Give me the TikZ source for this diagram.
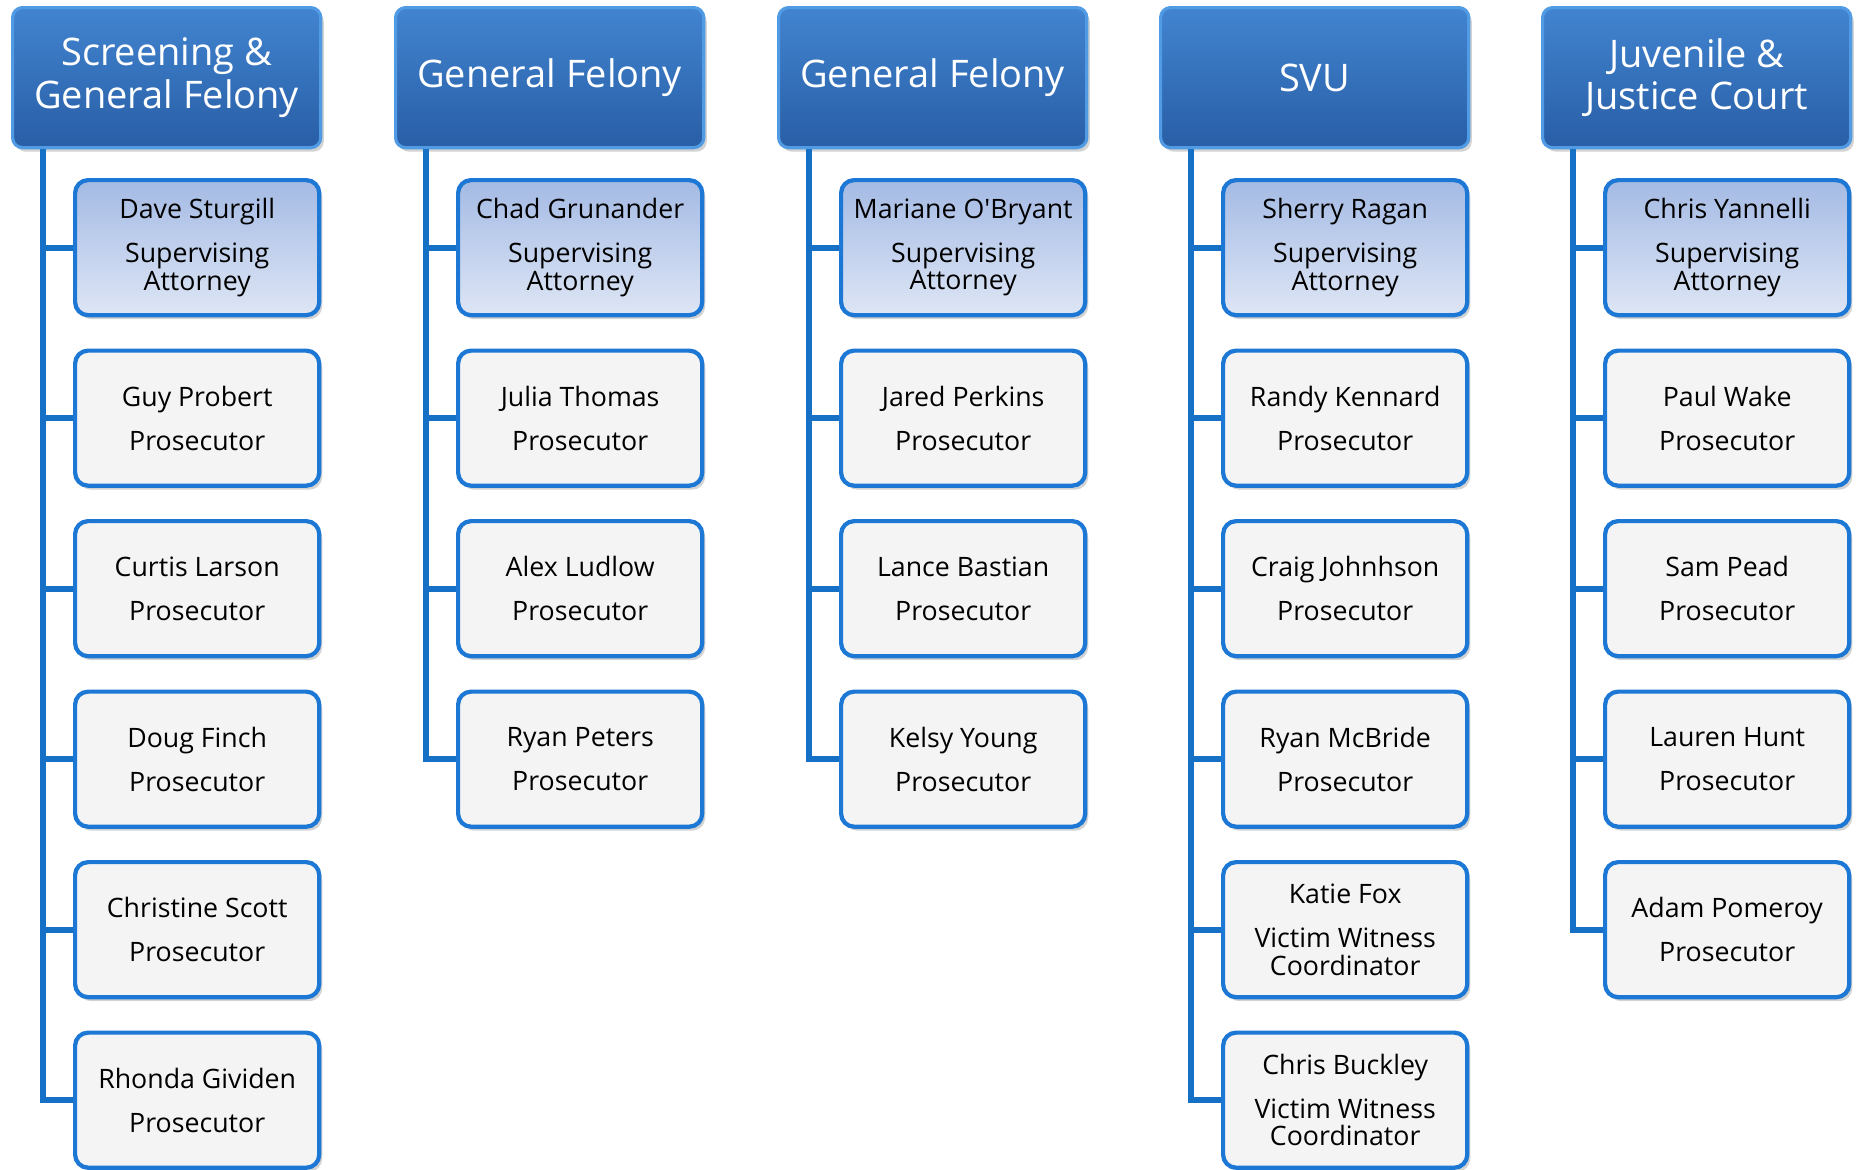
\documentclass[tikz,border=0pt]{standalone}
\usepackage{fontspec}
\setmainfont{Open Sans}
\usetikzlibrary{shadows}
\definecolor{hdtop}{RGB}{66,132,208}
\definecolor{hdbot}{RGB}{40,94,166}
\definecolor{hdborder}{RGB}{80,155,228}
\definecolor{bxborder}{RGB}{28,120,212}
\definecolor{bxfill}{RGB}{244,244,244}
\definecolor{suptop}{RGB}{164,186,228}
\definecolor{supbot}{RGB}{222,230,245}
\definecolor{lncol}{RGB}{22,112,198}
\tikzset{
  hdr/.style={anchor=north west, minimum width=3.08cm, minimum height=1.40cm,
    rounded corners=0.1cm, draw=hdborder, line width=0.9pt,
    top color=hdtop, bottom color=hdbot, text=white, align=center,
    font=\fontsize{10.8}{12.2}\selectfont,
    drop shadow={shadow xshift=0.03cm, shadow yshift=-0.04cm, opacity=0.35}},
  person/.style={anchor=north west, minimum width=2.44cm, minimum height=1.35cm,
    rounded corners=0.13cm, draw=bxborder, line width=1.2pt, fill=bxfill,
    align=center, font=\fontsize{7.6}{7.8}\selectfont,
    drop shadow={shadow xshift=0.03cm, shadow yshift=-0.04cm, opacity=0.35}},
  sup/.style={person, top color=suptop, bottom color=supbot},
  conn/.style={draw=lncol, line width=1.7pt}
}
\begin{document}
\begin{tikzpicture}[x=0.01cm,y=-0.01cm]
\useasboundingbox (0,0) rectangle (1857,1169);
% headers
\node[hdr] (h1) at (11,6) {Screening \&\\General Felony};
\node[hdr] (h2) at (394,6) {General Felony};
\node[hdr] (h3) at (777,6) {General Felony};
\node[hdr] (h4) at (1159,6) {SVU};
\node[hdr] (h5) at (1541,6) {Juvenile \&\\Justice Court};
% column 1
\node[sup] (c11) at (73,178) {Dave Sturgill\\[4.7pt]Supervising\\Attorney};
\node[person] (c12) at (73,348.5) {Guy Probert\\[4.7pt]Prosecutor};
\node[person] (c13) at (73,519) {Curtis Larson\\[4.7pt]Prosecutor};
\node[person] (c14) at (73,689.5) {Doug Finch\\[4.7pt]Prosecutor};
\node[person] (c15) at (73,860) {Christine Scott\\[4.7pt]Prosecutor};
\node[person] (c16) at (73,1030.5) {Rhonda Gividen\\[4.7pt]Prosecutor};
% column 2
\node[sup] (c21) at (456,178) {Chad Grunander\\[4.7pt]Supervising\\Attorney};
\node[person] (c22) at (456,348.5) {Julia Thomas\\[4.7pt]Prosecutor};
\node[person] (c23) at (456,519) {Alex Ludlow\\[4.7pt]Prosecutor};
\node[person] (c24) at (456,689.5) {Ryan Peters\\[4.7pt]Prosecutor};
% column 3
\node[sup] (c31) at (839,178) {Mariane O\textquotesingle Bryant\\[4.7pt]Supervising\\Attorney};
\node[person] (c32) at (839,348.5) {Jared Perkins\\[4.7pt]Prosecutor};
\node[person] (c33) at (839,519) {Lance Bastian\\[4.7pt]Prosecutor};
\node[person] (c34) at (839,689.5) {Kelsy Young\\[4.7pt]Prosecutor};
% column 4
\node[sup] (c41) at (1221,178) {Sherry Ragan\\[4.7pt]Supervising\\Attorney};
\node[person] (c42) at (1221,348.5) {Randy Kennard\\[4.7pt]Prosecutor};
\node[person] (c43) at (1221,519) {Craig Johnhson\\[4.7pt]Prosecutor};
\node[person] (c44) at (1221,689.5) {Ryan McBride\\[4.7pt]Prosecutor};
\node[person] (c45) at (1221,860) {Katie Fox\\[4.7pt]Victim Witness\\Coordinator};
\node[person] (c46) at (1221,1030.5) {Chris Buckley\\[4.7pt]Victim Witness\\Coordinator};
% column 5
\node[sup] (c51) at (1603,178) {Chris Yannelli\\[4.7pt]Supervising\\Attorney};
\node[person] (c52) at (1603,348.5) {Paul Wake\\[4.7pt]Prosecutor};
\node[person] (c53) at (1603,519) {Sam Pead\\[4.7pt]Prosecutor};
\node[person] (c54) at (1603,689.5) {Lauren Hunt\\[4.7pt]Prosecutor};
\node[person] (c55) at (1603,860) {Adam Pomeroy\\[4.7pt]Prosecutor};
% connectors
\foreach \h/\last in {h1/c16, h2/c24, h3/c34, h4/c46, h5/c55}{
  \coordinate (\h-top) at ([xshift=0.32cm]\h.south west);
  \draw[conn] (\h-top) |- (\last.west);
}
\foreach \i in {1,...,5} \draw[conn] (h1-top |- c1\i.west) -- (c1\i.west);
\foreach \i in {1,...,3} \draw[conn] (h2-top |- c2\i.west) -- (c2\i.west);
\foreach \i in {1,...,3} \draw[conn] (h3-top |- c3\i.west) -- (c3\i.west);
\foreach \i in {1,...,5} \draw[conn] (h4-top |- c4\i.west) -- (c4\i.west);
\foreach \i in {1,...,4} \draw[conn] (h5-top |- c5\i.west) -- (c5\i.west);
\end{tikzpicture}
\end{document}
